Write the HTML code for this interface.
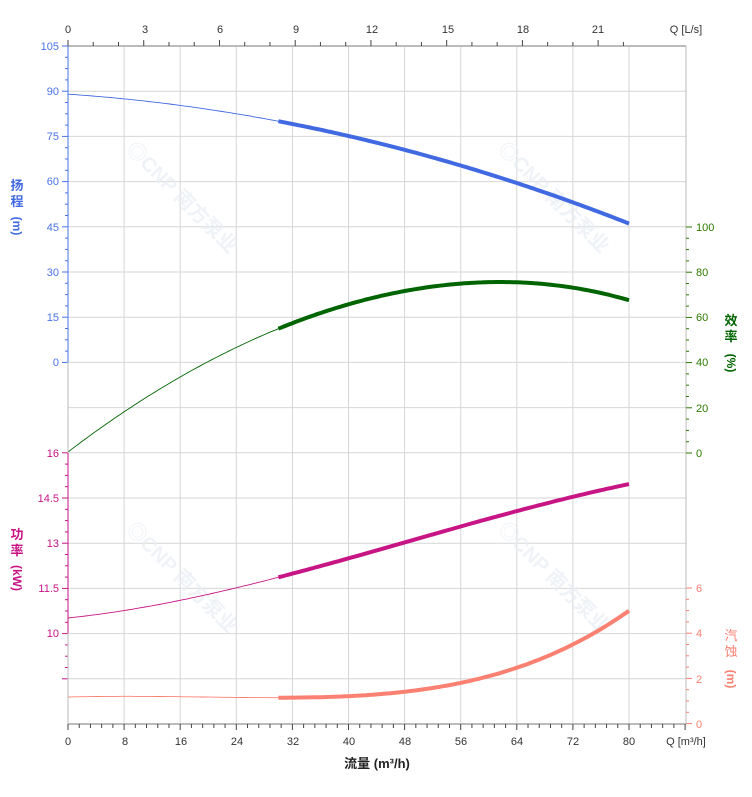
<!DOCTYPE html>
<html><head><meta charset="utf-8"><style>
body{margin:0;background:#fff}
svg{display:block;font-family:"Liberation Sans","Noto Sans CJK SC",sans-serif}
</style></head><body>
<svg id="s" width="752" height="797" viewBox="0 0 752 797" xmlns="http://www.w3.org/2000/svg">
<g id="grid"></g>
<g fill="#e8edf3" font-size="20" font-weight="bold" opacity="0.7">
<text transform="translate(125,150) rotate(45)">◎CNP 南方泵业</text>
<text transform="translate(497,150) rotate(45)">◎CNP 南方泵业</text>
<text transform="translate(125,530) rotate(45)">◎CNP 南方泵业</text>
<text transform="translate(497,530) rotate(45)">◎CNP 南方泵业</text>
</g>
<g id="curves"></g>
<g id="ticks"></g>
<g font-size="11" fill="#333" text-anchor="middle">
<text x="68" y="33">0</text><text x="145" y="33">3</text><text x="220" y="33">6</text><text x="296" y="33">9</text><text x="372" y="33">12</text><text x="448" y="33">15</text><text x="523" y="33">18</text><text x="598" y="33">21</text>
<text x="686" y="33">Q [L/s]</text>
<text x="68" y="745">0</text><text x="125" y="745">8</text><text x="181" y="745">16</text><text x="237" y="745">24</text><text x="293" y="745">32</text><text x="349" y="745">40</text><text x="405" y="745">48</text><text x="461" y="745">56</text><text x="517" y="745">64</text><text x="573" y="745">72</text><text x="629" y="745">80</text>
<text x="686" y="745">Q [m³/h]</text>
</g>
<text x="377" y="768" font-size="13" font-weight="bold" text-anchor="middle" fill="#222">流量 (m³/h)</text>
<g font-size="11" fill="#4a72e8" text-anchor="end">
<text x="59" y="50">105</text><text x="59" y="95">90</text><text x="59" y="140">75</text><text x="59" y="185">60</text><text x="59" y="231">45</text><text x="59" y="276">30</text><text x="59" y="321">15</text><text x="59" y="366">0</text>
</g>
<g font-size="11" fill="#c71585" text-anchor="end">
<text x="59" y="457">16</text><text x="59" y="502">14.5</text><text x="59" y="547">13</text><text x="59" y="592">11.5</text><text x="59" y="637">10</text>
</g>
<g font-size="11" fill="#2a7a00" text-anchor="start">
<text x="696" y="231">100</text><text x="696" y="276">80</text><text x="696" y="321">60</text><text x="696" y="366">40</text><text x="696" y="412">20</text><text x="696" y="457">0</text>
</g>
<g font-size="11" fill="#fa8072" text-anchor="start">
<text x="696" y="592">6</text><text x="696" y="637">4</text><text x="696" y="683">2</text><text x="696" y="728">0</text>
</g>
<g font-size="13" font-weight="bold" text-anchor="middle">
<text x="17" y="190" fill="#4169e1">扬</text><text x="17" y="206" fill="#4169e1">程</text>
<text transform="translate(13,226) rotate(90)" fill="#4169e1" font-size="12" text-anchor="middle">(m)</text>
<text x="17" y="539" fill="#c71585">功</text><text x="17" y="555" fill="#c71585">率</text>
<text transform="translate(13,578) rotate(90)" fill="#c71585" font-size="12" text-anchor="middle">(kW)</text>
<text x="731" y="325" fill="#006400">效</text><text x="731" y="341" fill="#006400">率</text>
<text transform="translate(727,363) rotate(90)" fill="#006400" font-size="12" text-anchor="middle">(%)</text>
<text x="731" y="640" fill="#fa8072" font-weight="normal">汽</text><text x="731" y="656" fill="#fa8072" font-weight="normal">蚀</text>
<text transform="translate(727,679) rotate(90)" fill="#fa8072" font-size="12" text-anchor="middle">(m)</text>
</g>
</svg>
<script>
var NS="http://www.w3.org/2000/svg";
function el(p,t,a){var e=document.createElementNS(NS,t);for(var k in a)e.setAttribute(k,a[k]);document.getElementById(p).appendChild(e);return e;}
var X0=68,XS=561/80,T=46,B=724,R=686,G=45.2;
function X(q){return X0+q*XS;}
for(var i=0;i<=15;i++)el("grid","line",{x1:X0,x2:R,y1:T+i*G,y2:T+i*G,stroke:"#d6d6d6","stroke-width":1});
for(var q=0;q<=80;q+=8)el("grid","line",{x1:X(q),x2:X(q),y1:T,y2:B,stroke:"#d6d6d6","stroke-width":1});
el("grid","rect",{x:X0,y:T,width:R-X0,height:B-T,fill:"none",stroke:"#ccc"});
el("ticks","line",{x1:X0,x2:R,y1:T,y2:T,stroke:"#bbb","stroke-width":2});
el("ticks","line",{x1:X0,x2:R,y1:B,y2:B,stroke:"#bbb","stroke-width":2});
for(var k=0;k<=22;k++){var x=X(k*3.6);if(x>R)break;el("ticks","line",{x1:x,x2:x,y1:T-(k%3?4:6),y2:T,stroke:"#444"});}
for(var k=0;k<=55;k++){var x=X(k*1.6);if(x>R+1)break;el("ticks","line",{x1:x,x2:x,y1:B,y2:B+(k%5?4:6),stroke:"#444"});}
for(var k=0;k<=28;k++){var y=T+k*G/4;el("ticks","line",{x1:X0-(k%4?3:6),x2:X0,y1:y,y2:y,stroke:"#4a72e8"});}
for(var k=36;k<=56;k++){var y=T+k*G/4;el("ticks","line",{x1:X0-(k%4?3:6),x2:X0,y1:y,y2:y,stroke:"#c71585"});}
el("ticks","line",{x1:X0,x2:X0,y1:T,y2:362,stroke:"#4a72e8"});
el("ticks","line",{x1:X0,x2:X0,y1:362,y2:453,stroke:"#bbb"});
el("ticks","line",{x1:X0,x2:X0,y1:453,y2:633,stroke:"#c71585"});
el("ticks","line",{x1:X0,x2:X0,y1:633,y2:B,stroke:"#bbb"});
el("ticks","line",{x1:R,x2:R,y1:T,y2:B,stroke:"#bbb"});
for(var k=0;k<=20;k++){var y=227+k*G/4;el("ticks","line",{x1:R,x2:R+(k%4?3:6),y1:y,y2:y,stroke:"#2a7a00"});}
for(var k=0;k<=12;k++){var y=588+k*G/4;el("ticks","line",{x1:R,x2:R+(k%4?3:6),y1:y,y2:y,stroke:"#fa8072"});}
function head(q){return 89-0.1575*q-0.00475*q*q;}
function hy(q){return 362-head(q)*316/105;}
// least squares polynomial fit (no intercept term; intercept fixed)
function fit(pts,y0,deg){var n=deg,A=[],b=[];for(var i=0;i<n;i++){A.push(new Array(n).fill(0));b.push(0);}
pts.forEach(function(p){var s=p[0]/80,r=p[1]-y0;for(var i=0;i<n;i++){b[i]+=Math.pow(s,i+1)*r;for(var j=0;j<n;j++)A[i][j]+=Math.pow(s,i+1)*Math.pow(s,j+1);}});
for(var i=0;i<n;i++){var m=i;for(var k=i+1;k<n;k++)if(Math.abs(A[k][i])>Math.abs(A[m][i]))m=k;var t=A[i];A[i]=A[m];A[m]=t;t=b[i];b[i]=b[m];b[m]=t;
for(var k=i+1;k<n;k++){var f=A[k][i]/A[i][i];for(var j=i;j<n;j++)A[k][j]-=f*A[i][j];b[k]-=f*b[i];}}
var c=new Array(n);for(var i=n-1;i>=0;i--){var s=b[i];for(var j=i+1;j<n;j++)s-=A[i][j]*c[j];c[i]=s/A[i][i];}
return function(q){var s=q/80,y=y0;for(var i=0;i<n;i++)y+=c[i]*Math.pow(s,i+1);return y;};}
var eff=fit([[8,410],[16,378],[24,348],[30,329],[41.6,300],[50,289],[61,282],[72,288],[80,300]],452,4);
var pw=fit([[15,603],[30,576],[55,529],[80,484]],618,3);
var np=fit([[10,697],[20,697],[30,697],[40,696],[48,692],[56,684],[64,667],[72,644],[80,611]],697,4);
function path(f,a,b){var d="";for(var q=a;q<=b+1e-9;q+=0.5){d+=(d?"L":"M")+X(q).toFixed(1)+","+f(q).toFixed(1);}return d;}
var cs=[[hy,"#4169e1"],[eff,"#006400"],[pw,"#c71585"],[np,"#fa8072"]];
cs.forEach(function(c){el("curves","path",{d:path(c[0],0,30),fill:"none",stroke:c[1],"stroke-width":0.9});el("curves","path",{d:path(c[0],30,80),fill:"none",stroke:c[1],"stroke-width":4});});
</script>
</body></html>
